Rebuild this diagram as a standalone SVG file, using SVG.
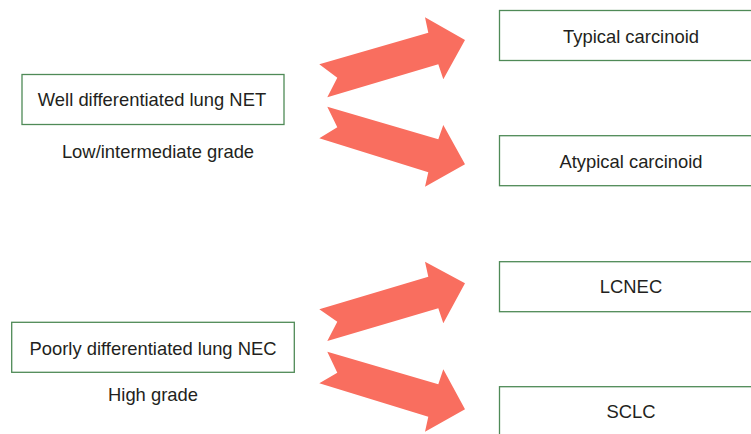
<svg xmlns="http://www.w3.org/2000/svg" width="751" height="434" viewBox="0 0 751 434">
<style>
.box{fill:#fff;stroke:#4f8a57;stroke-width:1.3}
.t{font-family:"Liberation Sans",Arial,sans-serif;font-size:18.4px;fill:#231f20;text-anchor:middle}
.arr{fill:#f96e5f}
</style>
<rect width="751" height="434" fill="#fff"/>
<g id="connectors">
<polygon class="arr" points="319.3,64.3 428.3,32.7 425,17.3 465,40 443.3,79.3 438.3,64.3 327.3,97.3 337.3,77.7"/>
<polygon class="arr" points="327.3,106.7 438.3,139.3 443.3,125 465,164.3 425,186.7 428.3,172.3 319.3,138.3 337.3,127.3"/>
<polygon class="arr" points="319.3,309.3 428.3,276.7 425,261.7 465,283.3 443.3,323.3 438.3,308.3 327.3,341 337.3,321.7"/>
<polygon class="arr" points="327.3,351.7 438.3,384.3 443.3,369.3 465,409.3 425,431.7 428.3,416.7 319.3,383.3 337.3,372.7"/>
</g>
<g id="well">
<rect class="box" x="22" y="74.5" width="262" height="50"/>
<text class="t" x="152" y="106">Well differentiated lung NET</text>
<text class="t" x="158" y="158">Low/intermediate grade</text>
</g>
<g id="poorly">
<rect class="box" x="11.7" y="322.3" width="282.6" height="50"/>
<text class="t" x="153" y="354.5">Poorly differentiated lung NEC</text>
<text class="t" x="153" y="400.5">High grade</text>
</g>
<g id="typical">
<rect class="box" x="499.5" y="10.5" width="263" height="50"/>
<text class="t" x="631" y="42.5">Typical carcinoid</text>
</g>
<g id="atypical">
<rect class="box" x="499.5" y="135.7" width="263" height="50"/>
<text class="t" x="631" y="167.5">Atypical carcinoid</text>
</g>
<g id="lcnec">
<rect class="box" x="499.5" y="261.7" width="263" height="50"/>
<text class="t" x="631" y="293">LCNEC</text>
</g>
<g id="sclc">
<rect class="box" x="499.5" y="386.7" width="263" height="50"/>
<text class="t" x="631" y="418">SCLC</text>
</g>
</svg>
